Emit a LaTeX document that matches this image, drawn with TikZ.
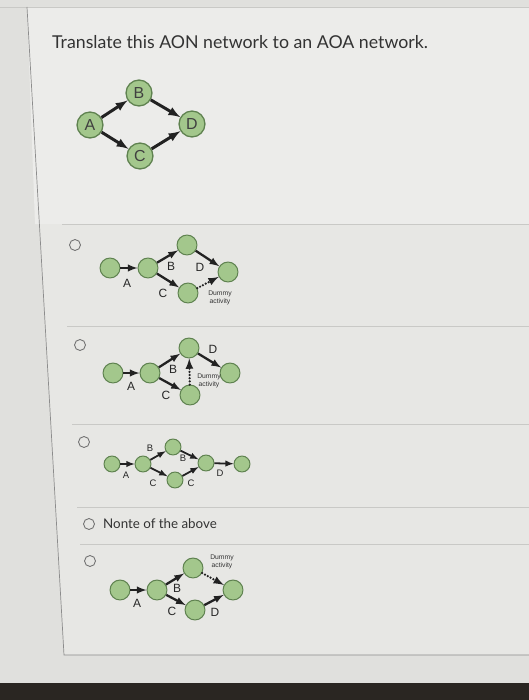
\documentclass[tikz,border=0pt]{standalone}
\usepackage{fontspec}
\setmainfont{Lato}
\newfontfamily\arialfont{Liberation Sans}
\definecolor{nodefill}{HTML}{A3C78C}
\definecolor{nodeedge}{HTML}{5F8250}
\definecolor{arrowcol}{HTML}{222222}
\definecolor{pagebg}{HTML}{E7E7E4}
\definecolor{topbg}{HTML}{ECECEA}
\definecolor{sidebg}{HTML}{E0E0DD}
\definecolor{rulecol}{HTML}{C9C9C6}
\definecolor{screenedge}{HTML}{2A2622}
\begin{document}
\begin{tikzpicture}[x=1bp,y=-1bp,
  aon/.style={circle,draw=nodeedge,fill=nodefill,line width=1.3,minimum size=26,inner sep=0,font=\arialfont\fontsize{16}{16}\selectfont,text=black!75},
  ev/.style={circle,draw=nodeedge,fill=nodefill,line width=1,minimum size=20,inner sep=0},
  evs/.style={ev,minimum size=16},
  act/.style={-latex,line width=2.3,color=arrowcol},
  dummy/.style={-latex,line width=2.5,color=arrowcol,line cap=round,dash pattern=on 0pt off 3.2pt},
  lbl/.style={font=\arialfont\fontsize{12}{12}\selectfont,text=black!85,inner sep=0},
  lbls/.style={font=\arialfont\fontsize{9.5}{9.5}\selectfont,text=black!85,inner sep=0},
  note/.style={font=\arialfont\fontsize{6.8}{7.5}\selectfont,text=black!80,inner sep=0,align=center},
  radio/.style={circle,draw=black!55,line width=0.9,minimum size=11,inner sep=0}]
\useasboundingbox (0,0) rectangle (529,700);
% page
\fill[sidebg] (0,0) rectangle (529,700);
\fill[pagebg] (27,7) -- (529,7) -- (529,655) -- (64,655) -- cycle;
\fill[topbg] (27,7) -- (529,7) -- (529,224) -- (35,224) -- cycle;
\fill[screenedge] (0,683) rectangle (529,700);
\draw[rulecol,line width=0.8] (0,7) -- (529,7);
\draw[black!45,line width=0.7] (27,7) -- (64,655) -- (529,655);
\draw[rulecol,line width=0.6] (62,224) -- (529,224);
\draw[rulecol,line width=0.6] (67,326) -- (529,326);
\draw[rulecol,line width=0.6] (72,424) -- (529,424);
\draw[rulecol,line width=0.6] (77,507) -- (529,507);
\draw[rulecol,line width=0.6] (80,544) -- (529,544);
% question
\node[anchor=west,font=\fontsize{17.8}{17.8}\selectfont,text=black!80,inner sep=0] (title) at (52,42) {Translate this AON network to an AOA network.};
% AON network
\node[aon] (A) at (90,125) {A};
\node[aon] (B) at (139,93) {B};
\node[aon] (C) at (140,156) {C};
\node[aon] (D) at (192,124) {D};
\draw[act,line width=3] (A) -- (B);
\draw[act,line width=3] (A) -- (C);
\draw[act,line width=3] (B) -- (D);
\draw[act,line width=3] (C) -- (D);
% choice 1
\node[radio] (r1) at (75,245) {};
\node[ev] (p1) at (110,268) {};
\node[ev] (p2) at (148,268) {};
\node[ev] (p3) at (187,245) {};
\node[ev] (p4) at (188,293) {};
\node[ev] (p5) at (228,272) {};
\draw[act] (p1) -- (p2);
\draw[act] (p2) -- (p3);
\draw[act] (p2) -- (p4);
\draw[act] (p3) -- (p5);
\draw[dummy] (p4) -- (p5);
\node[lbl] (p1a) at (127,283) {A};
\node[lbl] (p1b) at (171,266) {B};
\node[lbl] (p1c) at (163,293) {C};
\node[lbl] (p1d) at (200,267) {D};
\node[note] (p1n) at (220,298) {Dummy\\activity};
% choice 2
\node[radio] (r2) at (80,345) {};
\node[ev] (q1) at (113,373) {};
\node[ev] (q2) at (150,373) {};
\node[ev] (q3) at (189,348) {};
\node[ev] (q4) at (190,395) {};
\node[ev] (q5) at (230,373) {};
\draw[act] (q1) -- (q2);
\draw[act] (q2) -- (q3);
\draw[act] (q2) -- (q4);
\draw[act] (q3) -- (q5);
\draw[dummy] (q4) -- (q3);
\node[lbl] (q1a) at (131,386) {A};
\node[lbl] (q1b) at (173,369) {B};
\node[lbl] (q1c) at (166,395) {C};
\node[lbl] (q1d) at (213,349) {D};
\node[note] (q1n) at (209,381) {Dummy\\activity};
% choice 3
\node[radio] (r3) at (84,442) {};
\node[evs] (s1) at (112,464) {};
\node[evs] (s2) at (143,464) {};
\node[evs] (s3) at (173,447) {};
\node[evs] (s4) at (206,463) {};
\node[evs] (s5) at (175,480) {};
\node[evs] (s6) at (242,464) {};
\draw[act,line width=1.8] (s1) -- (s2);
\draw[act,line width=1.8] (s2) -- (s3);
\draw[act,line width=1.8] (s3) -- (s4);
\draw[act,line width=1.8] (s2) -- (s5);
\draw[act,line width=1.8] (s5) -- (s4);
\draw[act,line width=1.8] (s4) -- (s6);
\node[lbls] (s1a) at (126,475) {A};
\node[lbls] (s1b) at (150,448) {B};
\node[lbls] (s2b) at (183,458) {B};
\node[lbls] (s1c) at (153,483) {C};
\node[lbls] (s2c) at (191,483) {C};
\node[lbls] (s1d) at (220,473) {D};
% none
\node[radio] (r4) at (89,524) {};
\node[anchor=west,font=\fontsize{13.4}{13.4}\selectfont,text=black!80,inner sep=0] (none) at (103,524) {Nonte of the above};
% choice 5
\node[radio] (r5) at (90,561) {};
\node[ev] (t1) at (120,590) {};
\node[ev] (t2) at (157,590) {};
\node[ev] (t3) at (193,568) {};
\node[ev] (t4) at (195,610) {};
\node[ev] (t5) at (233,590) {};
\draw[act] (t1) -- (t2);
\draw[act] (t2) -- (t3);
\draw[act] (t2) -- (t4);
\draw[dummy] (t3) -- (t5);
\draw[act] (t4) -- (t5);
\node[lbl] (t1a) at (137,603) {A};
\node[lbl] (t1b) at (177,588) {B};
\node[lbl] (t1c) at (172,611) {C};
\node[lbl] (t1d) at (215,612) {D};
\node[note] (t1n) at (222,562) {Dummy\\activity};
\end{tikzpicture}
\end{document}
